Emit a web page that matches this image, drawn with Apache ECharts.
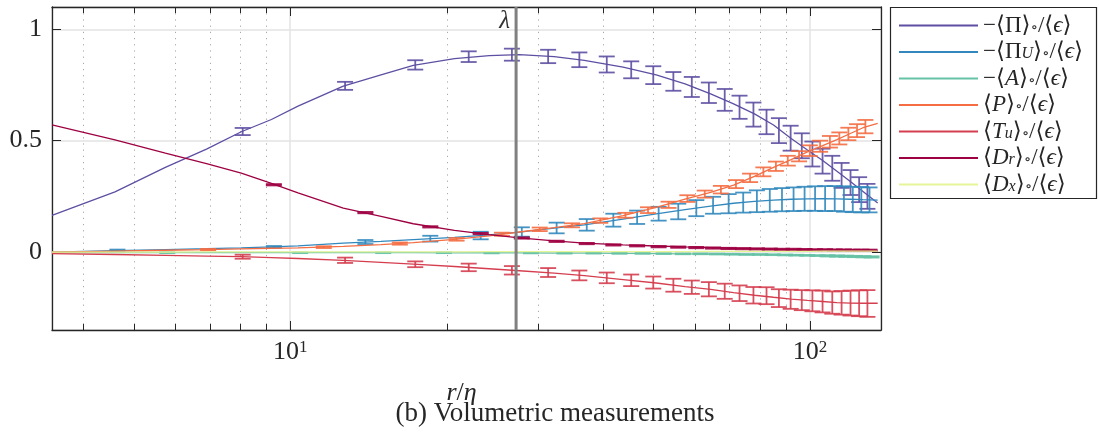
<!DOCTYPE html>
<html><head><meta charset="utf-8">
<script src="https://cdn.jsdelivr.net/npm/echarts@6/dist/echarts.min.js"></script>
<style>html,body{margin:0;padding:0;background:#fff}#c{width:1099px;height:432px}</style>
</head><body><div id="c"></div><script>
// ---------- data ----------
const xTickLabels = ['10^1', '10^2'];
const yTickLabels = ['0', '0.5', '1'];
const minorTicks = [4, 5, 6, 7, 8, 9, 20, 30, 40, 50, 60, 70, 80, 90];
const lambdaR = 27.2;

const seriesNames = ['Pi', 'PiU', 'A', 'P', 'Tu', 'Dr', 'Dx'];

// line samples (r/eta) shared by all curves
const lineR = [3.48, 4.6, 5.75, 6.9, 8.05, 9.2, 10.35, 12.65, 14.95, 17.25, 20.7, 24.15, 27.6, 32.2, 36.8, 43.7, 50.6, 57.5, 64.4, 71.3, 78.2, 85.1, 92, 98.9, 105.8, 112.7, 119.6, 126.5, 135];
const piLine  = [0.165, 0.27, 0.38, 0.462, 0.54, 0.595, 0.655, 0.745, 0.795, 0.838, 0.868, 0.882, 0.886, 0.877, 0.86, 0.83, 0.795, 0.755, 0.71, 0.665, 0.62, 0.57, 0.51, 0.458, 0.411, 0.363, 0.317, 0.272, 0.22];
const piULine = [0.0, 0.006, 0.011, 0.015, 0.019, 0.023, 0.028, 0.04, 0.048, 0.056, 0.066, 0.077, 0.089, 0.107, 0.122, 0.148, 0.171, 0.19, 0.206, 0.219, 0.227, 0.233, 0.237, 0.239, 0.24, 0.239, 0.237, 0.235, 0.233];
const aLine   = [-0.002, -0.002, -0.003, -0.003, -0.003, -0.003, -0.003, -0.003, -0.003, -0.003, -0.004, -0.004, -0.004, -0.005, -0.005, -0.006, -0.007, -0.008, -0.009, -0.01, -0.011, -0.012, -0.014, -0.015, -0.016, -0.018, -0.019, -0.021, -0.022];
const pLine   = [0.0, 0.004, 0.008, 0.011, 0.014, 0.017, 0.019, 0.025, 0.033, 0.042, 0.057, 0.073, 0.09, 0.11, 0.128, 0.163, 0.2, 0.238, 0.268, 0.3, 0.34, 0.38, 0.415, 0.45, 0.478, 0.505, 0.532, 0.558, 0.578];
const tuLine  = [-0.007, -0.011, -0.015, -0.018, -0.021, -0.025, -0.029, -0.037, -0.046, -0.054, -0.065, -0.075, -0.084, -0.095, -0.106, -0.124, -0.139, -0.155, -0.168, -0.182, -0.194, -0.203, -0.211, -0.217, -0.222, -0.227, -0.229, -0.23, -0.23];
const drLine  = [0.571, 0.503, 0.444, 0.397, 0.354, 0.308, 0.266, 0.197, 0.16, 0.127, 0.097, 0.078, 0.064, 0.05, 0.04, 0.032, 0.027, 0.023, 0.02, 0.017, 0.015, 0.013, 0.012, 0.011, 0.01, 0.009, 0.008, 0.008, 0.007];
const dxLine  = [0.0, 0.0, 0.0, 0.001, 0.001, 0.001, 0.001, 0.001, 0.001, 0.001, 0.001, 0.002, 0.002, 0.002, 0.002, 0.002, 0.002, 0.002, 0.003, 0.003, 0.003, 0.003, 0.003, 0.003, 0.004, 0.004, 0.004, 0.004, 0.004];

// error-bar samples
const piBarR  = [8.1, 12.75, 17.4, 22.05, 26.7, 31.35, 36, 40.65, 45.3, 49.95, 54.6, 59.25, 63.9, 68.55, 73.2, 77.85, 82.5, 87.15, 91.8, 96.45, 101.1, 105.75, 110.4, 115.05, 119.7, 124.35, 129];
const piMean  = [0.541, 0.746, 0.84, 0.877, 0.886, 0.878, 0.863, 0.842, 0.818, 0.794, 0.766, 0.741, 0.715, 0.683, 0.65, 0.617, 0.584, 0.545, 0.511, 0.477, 0.44, 0.408, 0.376, 0.344, 0.312, 0.28, 0.25];
const piErr   = [0.016, 0.018, 0.021, 0.024, 0.027, 0.03, 0.033, 0.036, 0.038, 0.04, 0.042, 0.045, 0.046, 0.049, 0.052, 0.054, 0.055, 0.056, 0.056, 0.056, 0.056, 0.056, 0.056, 0.056, 0.056, 0.056, 0.056];

const piUBarR = [4.65, 9.3, 13.95, 18.6, 23.25, 27.9, 32.55, 37.2, 41.85, 46.5, 51.15, 55.8, 60.45, 65.1, 69.75, 74.4, 79.05, 83.7, 88.35, 93, 97.65, 102.3, 106.95, 111.6, 116.25, 120.9, 125.55, 130.2];
const piUMean = [0.008, 0.023, 0.045, 0.06, 0.074, 0.09, 0.108, 0.122, 0.143, 0.156, 0.172, 0.182, 0.197, 0.21, 0.217, 0.222, 0.228, 0.232, 0.235, 0.237, 0.239, 0.24, 0.24, 0.24, 0.238, 0.236, 0.235, 0.234];
const piUErr  = [0.003, 0.004, 0.009, 0.013, 0.017, 0.021, 0.024, 0.026, 0.029, 0.03, 0.031, 0.035, 0.036, 0.038, 0.043, 0.045, 0.049, 0.051, 0.052, 0.053, 0.054, 0.055, 0.056, 0.056, 0.057, 0.057, 0.057, 0.056];

const aBarR   = [5.8, 10.45, 15.1, 19.75, 24.4, 29.05, 33.7, 38.35, 43, 47.65, 52.3, 56.95, 61.6, 66.25, 70.9, 75.55, 80.2, 84.85, 89.5, 94.15, 98.8, 103.45, 108.1, 112.75, 117.4, 122.05, 126.7, 131.35];
const aMean   = [-0.003, -0.003, -0.003, -0.003, -0.004, -0.004, -0.005, -0.005, -0.006, -0.006, -0.007, -0.008, -0.008, -0.009, -0.01, -0.011, -0.011, -0.012, -0.013, -0.014, -0.015, -0.016, -0.017, -0.018, -0.019, -0.02, -0.021, -0.022];
const aErr    = [0.002, 0.002, 0.002, 0.002, 0.002, 0.002, 0.002, 0.002, 0.002, 0.002, 0.002, 0.002, 0.002, 0.002, 0.002, 0.002, 0.002, 0.002, 0.002, 0.002, 0.002, 0.002, 0.003, 0.003, 0.003, 0.003, 0.003, 0.003];

const pBarR   = [6.95, 11.6, 16.25, 20.9, 25.55, 30.2, 34.85, 39.5, 44.15, 48.8, 53.45, 58.1, 62.75, 67.4, 72.05, 76.7, 81.35, 86, 90.65, 95.3, 99.95, 104.6, 109.25, 113.9, 118.55, 123.2, 127.85];
const pMean   = [0.011, 0.022, 0.038, 0.057, 0.08, 0.102, 0.12, 0.141, 0.165, 0.188, 0.212, 0.24, 0.26, 0.28, 0.305, 0.333, 0.36, 0.385, 0.41, 0.43, 0.455, 0.475, 0.495, 0.51, 0.53, 0.545, 0.563];
const pErr    = [0.003, 0.004, 0.005, 0.006, 0.007, 0.008, 0.009, 0.01, 0.011, 0.013, 0.014, 0.015, 0.016, 0.017, 0.018, 0.019, 0.02, 0.021, 0.022, 0.023, 0.024, 0.025, 0.026, 0.027, 0.028, 0.029, 0.03];

const tuBarR  = [8.1, 12.75, 17.4, 22.05, 26.7, 31.35, 36, 40.65, 45.3, 49.95, 54.6, 59.25, 63.9, 68.55, 73.2, 77.85, 82.5, 87.15, 91.8, 96.45, 101.1, 105.75, 110.4, 115.05, 119.7, 124.35, 129];
const tuMean  = [-0.021, -0.037, -0.055, -0.069, -0.082, -0.092, -0.105, -0.116, -0.127, -0.137, -0.149, -0.158, -0.167, -0.176, -0.185, -0.194, -0.196, -0.207, -0.212, -0.216, -0.219, -0.222, -0.227, -0.228, -0.229, -0.23, -0.231];
const tuErr   = [0.009, 0.012, 0.013, 0.017, 0.019, 0.02, 0.022, 0.024, 0.026, 0.027, 0.029, 0.03, 0.032, 0.034, 0.035, 0.037, 0.038, 0.04, 0.043, 0.045, 0.047, 0.049, 0.05, 0.053, 0.056, 0.058, 0.06];

const drBarR  = [9.3, 13.95, 18.6, 23.25, 27.9, 32.55, 37.2, 41.85, 46.5, 51.15, 55.8, 60.45, 65.1, 69.75, 74.4, 79.05, 83.7, 88.35, 93, 97.65, 102.3, 106.95, 111.6, 116.25, 120.9, 125.55, 130.2];
const drMean  = [0.302, 0.177, 0.113, 0.083, 0.063, 0.048, 0.038, 0.032, 0.028, 0.024, 0.022, 0.02, 0.018, 0.016, 0.015, 0.014, 0.013, 0.012, 0.012, 0.011, 0.01, 0.01, 0.009, 0.009, 0.008, 0.008, 0.008];
const drErr   = [0.003, 0.003, 0.003, 0.003, 0.003, 0.003, 0.003, 0.003, 0.003, 0.003, 0.003, 0.003, 0.003, 0.003, 0.003, 0.003, 0.003, 0.003, 0.003, 0.003, 0.003, 0.003, 0.003, 0.003, 0.003, 0.003, 0.003];

// ---------- styling ----------
const FF = "'Liberation Serif','DejaVu Serif',serif";
const INK = '#262626';
const colors = {Pi: '#5e4fa2', PiU: '#3288bd', A: '#66c2a5', P: '#f46d43', Tu: '#d53e4f', Dr: '#9e0142', Dx: '#e6f598'};
const legendText = {
  Pi:  '{n|−⟨Π⟩}{s|∘}{n|/⟨}{i|ϵ}{n|⟩}',
  PiU: '{n|−⟨Π}{si|U}{n|⟩}{s|∘}{n|/⟨}{i|ϵ}{n|⟩}',
  A:   '{n|−⟨}{i|A}{n|⟩}{s|∘}{n|/⟨}{i|ϵ}{n|⟩}',
  P:   '{n|⟨}{i|P}{n|⟩}{s|∘}{n|/⟨}{i|ϵ}{n|⟩}',
  Tu:  '{n|⟨}{i|T}{si|u}{n|⟩}{s|∘}{n|/⟨}{i|ϵ}{n|⟩}',
  Dr:  '{n|⟨}{i|D}{si|r}{n|⟩}{s|∘}{n|/⟨}{i|ϵ}{n|⟩}',
  Dx:  '{n|⟨}{i|D}{si|x}{n|⟩}{s|∘}{n|/⟨}{i|ϵ}{n|⟩}'
};
const lines = {Pi: piLine, PiU: piULine, A: aLine, P: pLine, Tu: tuLine, Dr: drLine, Dx: dxLine};
const bars = {
  Pi: [piBarR, piMean, piErr], PiU: [piUBarR, piUMean, piUErr], A: [aBarR, aMean, aErr],
  P: [pBarR, pMean, pErr], Tu: [tuBarR, tuMean, tuErr], Dr: [drBarR, drMean, drErr]
};

function errRender(color) {
  return function (params, api) {
    const x = api.value(0);
    const pLo = api.coord([x, api.value(1)]);
    const pHi = api.coord([x, api.value(2)]);
    const hw = 8;
    const st = {stroke: color, lineWidth: 1.8, opacity: 0.9};
    return {type: 'group', children: [
      {type: 'line', shape: {x1: pHi[0], y1: pHi[1], x2: pLo[0], y2: pLo[1]}, style: st},
      {type: 'line', shape: {x1: pHi[0] - hw, y1: pHi[1], x2: pHi[0] + hw, y2: pHi[1]}, style: st},
      {type: 'line', shape: {x1: pLo[0] - hw, y1: pLo[1], x2: pLo[0] + hw, y2: pLo[1]}, style: st}
    ]};
  };
}

const series = [];
// minor dotted grid + minor ticks
series.push({
  type: 'custom', silent: true, z: 1, clip: false,
  data: minorTicks.map(v => [v, 0]), encode: {x: 0, y: 1},
  renderItem: function (params, api) {
    const cs = params.coordSys;
    const x = Math.round(api.coord([api.value(0), 0])[0]) + 0.5;
    return {type: 'group', children: [
      {type: 'line', shape: {x1: x, y1: cs.y, x2: x, y2: cs.y + cs.height}, style: {stroke: '#a8a8a8', lineWidth: 1, lineDash: [1.2, 5]}},
      {type: 'line', shape: {x1: x, y1: cs.y + cs.height, x2: x, y2: cs.y + cs.height - 6}, style: {stroke: INK, lineWidth: 1}},
      {type: 'line', shape: {x1: x, y1: cs.y, x2: x, y2: cs.y + 6}, style: {stroke: INK, lineWidth: 1}}
    ]};
  }
});
seriesNames.forEach(function (k, idx) {
  series.push({
    name: k, type: 'line', symbol: 'none', showSymbol: false, z: 3 + idx,
    color: colors[k], lineStyle: {width: 1.3, color: colors[k]},
    data: lineR.map((r, i) => [r, lines[k][i]])
  });
  if (bars[k]) {
    const b = bars[k];
    series.push({
      name: k, type: 'custom', z: 3 + idx, clip: true,
      data: b[0].map((r, i) => [r, b[1][i] - b[2][i], b[1][i] + b[2][i]]),
      encode: {x: 0, y: [1, 2]},
      renderItem: errRender(colors[k])
    });
  }
});
// lambda marker
series.push({
  type: 'custom', silent: true, z: 20, clip: false,
  data: [[lambdaR, 0]], encode: {x: 0, y: 1},
  renderItem: function (params, api) {
    const cs = params.coordSys;
    const x = api.coord([api.value(0), 0])[0];
    return {type: 'group', children: [
      {type: 'line', shape: {x1: x, y1: cs.y, x2: x, y2: cs.y + cs.height}, style: {stroke: '#808080', lineWidth: 3}},
      {type: 'text', style: {text: 'λ', x: x - 6, y: cs.y + 14, align: 'right', verticalAlign: 'middle', font: 'italic 25px ' + FF, fill: '#333'}}
    ]};
  }
});

const xLabelRich = {
  b: {fontFamily: FF, fontSize: 26, lineHeight: 26, color: INK},
  s: {fontFamily: FF, fontSize: 17, lineHeight: 16, color: INK, verticalAlign: 'top'}
};
function xFmt(v) {
  const e = Math.log10(v);
  if (Math.abs(e - Math.round(e)) > 1e-6) return '';
  const lab = xTickLabels.find(t => t === '10^' + Math.round(e));
  if (!lab) return '';
  const p = lab.split('^');
  return '{b|' + p[0] + '}{s|' + p[1] + '}';
}
function yFmt(v) {
  const s = String(Math.round(v * 1000) / 1000);
  return yTickLabels.indexOf(s) >= 0 ? s : '';
}
const tickStyle = {inside: true, length: 9, lineStyle: {color: INK, width: 1}};
const splitStyle = {show: true, lineStyle: {color: '#e3e3e3', width: 1.5}};
const lineAx = {show: true, onZero: false, lineStyle: {color: INK, width: 1.3}};

const chart = echarts.init(document.getElementById('c'), null, {renderer: 'canvas'});
chart.setOption({
  animation: false,
  backgroundColor: '#fff',
  grid: {left: 52, right: 218, top: 7, bottom: 102, show: false, containLabel: false, outerBoundsMode: 'none'},
  xAxis: [
    {type: 'log', logBase: 10, min: 3.48, max: 137, position: 'bottom',
     axisLine: lineAx, axisTick: tickStyle, splitLine: splitStyle, minorTick: {show: false},
     axisLabel: {formatter: xFmt, margin: 9, showMinLabel: false, showMaxLabel: false, rich: xLabelRich},
     name: '{i|r}{n|/}{i|η}', nameLocation: 'middle', nameGap: 50,
     nameTextStyle: {padding: [0, 10, 0, 0], rich: {i: {fontFamily: FF, fontStyle: 'italic', fontSize: 26, color: INK}, n: {fontFamily: FF, fontSize: 26, color: INK}}}},
    {type: 'log', logBase: 10, min: 3.48, max: 137, position: 'top',
     axisLine: lineAx, axisTick: tickStyle, splitLine: {show: false}, axisLabel: {show: false}}
  ],
  yAxis: [
    {type: 'value', min: -0.35, max: 1.1, splitNumber: 3, position: 'left',
     axisLine: lineAx, axisTick: tickStyle, splitLine: splitStyle,
     axisLabel: {formatter: yFmt, margin: 10, showMinLabel: false, showMaxLabel: false, fontFamily: FF, fontSize: 26, color: INK}},
    {type: 'value', min: -0.35, max: 1.1, splitNumber: 3, position: 'right',
     axisLine: lineAx, axisTick: tickStyle, splitLine: {show: false}, axisLabel: {show: false}}
  ],
  legend: {
    data: seriesNames, orient: 'vertical', left: 891, top: 7,
    padding: [7, 6, 4, 8], itemGap: 3.5, itemWidth: 79, itemHeight: 2, icon: 'rect',
    formatter: function (name) { return legendText[name]; },
    textStyle: {
      rich: {
        n: {fontFamily: FF, fontSize: 23, lineHeight: 20, color: INK},
        i: {fontFamily: FF, fontStyle: 'italic', fontSize: 23, lineHeight: 20, color: INK},
        s: {fontFamily: FF, fontSize: 15, lineHeight: 12, color: INK, verticalAlign: 'bottom'},
        si: {fontFamily: FF, fontStyle: 'italic', fontSize: 16, lineHeight: 12, color: INK, verticalAlign: 'bottom'}
      }
    }
  },
  graphic: [
    {type: 'rect', shape: {x: 890.5, y: 7.5, width: 206, height: 191}, style: {fill: 'none', stroke: INK, lineWidth: 1.2}, silent: true},
    {type: 'text', x: 555, y: 414, style: {text: '(b) Volumetric measurements', font: '27px ' + FF, fill: INK, align: 'center', verticalAlign: 'middle'}, silent: true}
  ],
  series: series
});
</script></body></html>
